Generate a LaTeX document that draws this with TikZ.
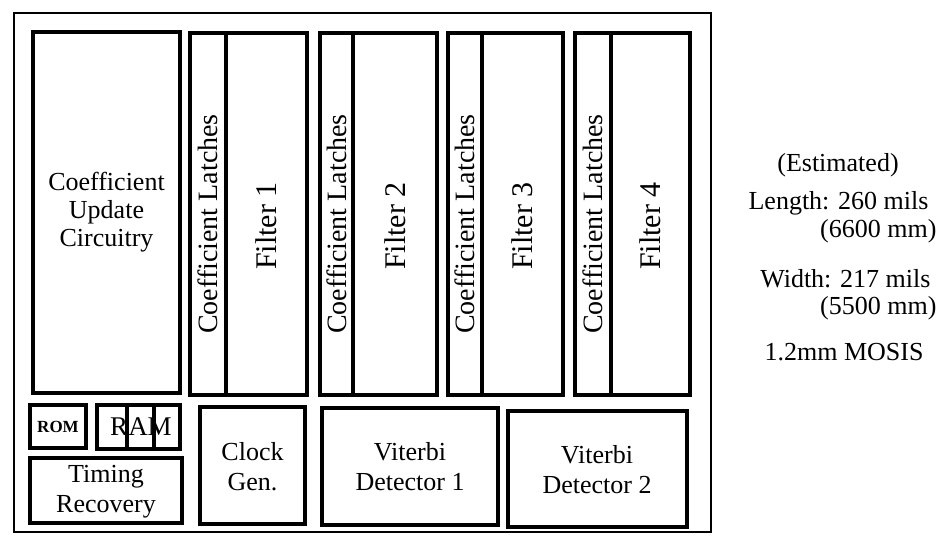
\documentclass[tikz,border=0pt]{standalone}
\usepackage{fontspec}
\setmainfont{Liberation Serif}
\begin{document}
\begin{tikzpicture}[x=1pt,y=-1pt,line width=3.2pt,
  lbl/.style={font=\fontsize{26}{28}\selectfont,align=center,inner sep=0pt},
  tall/.style={font=\fontsize{26}{30}\selectfont,align=center,inner sep=0pt}]
\useasboundingbox (0,0) rectangle (943,545);
% chip outline
\draw[line width=2.4pt] (14,13) rectangle (711,532);
% top row: update circuitry and the four filters
\draw (33,32) rectangle (180,393);
\node[lbl] (coef) at (106.5,212) {Coefficient\\Update\\Circuitry};
\foreach \i/\xa/\xb/\xc in {1/190/226/307, 2/320/353/437, 3/448/482/563, 4/575/611/690} {
  \draw (\xa,33) rectangle (\xc,395) (\xb,33) -- (\xb,395);
  \node[lbl,rotate=90,font=\fontsize{28}{30}\selectfont] (latch\i) at ({(\xa+\xb)/2},224) {Coefficient Latches};
  \node[lbl,rotate=90,font=\fontsize{30}{32}\selectfont] (filt\i) at ({(\xb+\xc)/2},226) {Filter \i};
}
% bottom row
\draw (30,405) rectangle (86,448);
\node[inner sep=0pt,font=\bfseries\fontsize{17}{20}\selectfont] (rom) at (58,427) {ROM};
\draw (97,405) rectangle (180,449) (127,405) -- (127,449) (154,405) -- (154,449);
\node[lbl,font=\fontsize{27}{28}\selectfont] (ram) at (141,427) {RAM};
\draw (30,458) rectangle (182,523);
\node[tall] (timing) at (106,492) {Timing\\Recovery};
\draw (200,407) rectangle (305,524);
\node[tall] (clock) at (252.5,467) {Clock\\Gen.};
\draw (322,408) rectangle (498,525);
\node[tall] (vit1) at (410,467) {Viterbi\\Detector 1};
\draw (508,411) rectangle (687,527);
\node[tall] (vit2) at (597,470) {Viterbi\\Detector 2};
% size notes
\node[lbl] (est) at (838,165) {(Estimated)};
\node[lbl,anchor=east] (len) at (930,203) {Length: 260 mils};
\node[lbl,anchor=east] (lenmm) at (938,231) {(6600 mm)};
\node[lbl,anchor=east] (wid) at (932,279) {Width: 217 mils};
\node[lbl,anchor=east] (widmm) at (938,308) {(5500 mm)};
\node[lbl] (mosis) at (844,352) {1.2mm MOSIS};
\end{tikzpicture}
\end{document}
